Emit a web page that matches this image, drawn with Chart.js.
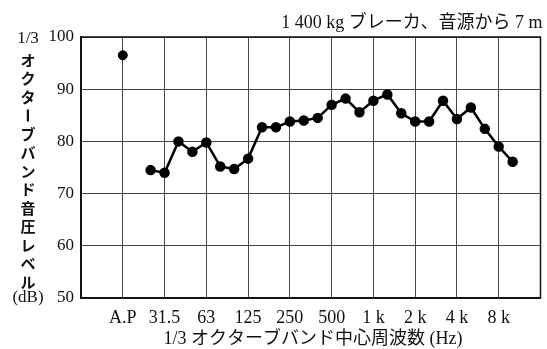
<!DOCTYPE html>
<html><head><meta charset="utf-8">
<script src="https://cdn.jsdelivr.net/npm/chart.js@4/dist/chart.umd.min.js"></script>
<style>html,body{margin:0;padding:0;background:#fff}#wrap{width:547px;height:349px}</style>
</head><body><div id="wrap"><canvas id="c" width="547" height="349"></canvas></div>
<script>
// 1/3 octave band centre frequencies (Hz) of the measured points
const bands = ['25','31.5','40','50','63','80','100','125','160','200','250','315','400','500','630','800','1k','1.25k','1.6k','2k','2.5k','3.15k','4k','5k','6.3k','8k','10k'];
// band sound pressure levels (dB)
const levels = [74.5, 74.0, 80.0, 78.0, 79.8, 75.2, 74.7, 76.7, 82.7, 82.7, 83.8, 84.0, 84.5, 87.0, 88.2, 85.6, 87.8, 89.0, 85.4, 83.8, 83.8, 87.8, 84.3, 86.5, 82.4, 79.0, 76.1];
// overall A.P level (dB)
const apLevel = 96.5;
// x tick labels (one per octave grid line)
const xTickLabels = ['', 'A.P', '31.5', '63', '125', '250', '500', '1 k', '2 k', '4 k', '8 k', ''];
const yTicks = [50, 60, 70, 80, 90, 100];
const titleText = '1 400 kg ブレーカ、音源から 7 m';
const yTitleTop = '1/3';
const yTitleChars = ['オ','ク','タ','ー','ブ','バ','ン','ド','音','圧','レ','ベ','ル'];
const yTitleBottom = '(dB)';
const xTitle = '1/3 オクターブバンド中心周波数 (Hz)';

const FONT = "'Liberation Serif', 'Noto Sans CJK JP', serif";

// positions on a third-octave step scale: A.P at 3, 25 Hz at 5
const bandPos = bands.map((b, i) => 5 + i);
const lineData = levels.map((v, i) => ({x: bandPos[i], y: v}));
const apData = [{x: 3, y: apLevel}];

const textPlugin = {
  id: 'texts',
  afterDraw(chart) {
    const ctx = chart.ctx;
    const a = chart.chartArea;
    ctx.save();
    ctx.strokeStyle = '#111';
    ctx.lineWidth = 1.5;
    ctx.strokeRect(a.left, a.top, a.right - a.left, a.bottom - a.top);
    ctx.fillStyle = '#111';
    // title
    ctx.font = "18px " + FONT;
    ctx.textAlign = 'right';
    ctx.textBaseline = 'middle';
    ctx.fillText(titleText, a.right + 2, 23);
    // y title
    ctx.textAlign = 'center';
    ctx.font = "17px " + FONT;
    ctx.fillText(yTitleTop, 28, 39);
    ctx.font = "bold 15px 'Noto Sans CJK JP'";
    const y0 = 60, step = 18.5;
    yTitleChars.forEach((ch, i) => {
      const y = y0 + i * step;
      if (ch === 'ー') {
        ctx.save();
        ctx.translate(28, y);
        ctx.rotate(Math.PI / 2);
        ctx.fillText(ch, 0, 0);
        ctx.restore();
      } else {
        ctx.fillText(ch, 28, y);
      }
    });
    ctx.font = "17px " + FONT;
    ctx.fillText(yTitleBottom, 28, 298);
    // x title
    ctx.font = "18px " + FONT;
    ctx.fillText(xTitle, 313, 339);
    ctx.restore();
  }
};

new Chart(document.getElementById('c'), {
  type: 'line',
  data: {
    datasets: [
      {data: lineData, borderColor: '#000', backgroundColor: '#000', borderWidth: 2.5, pointRadius: 4, pointBackgroundColor: '#000', pointBorderColor: '#000', tension: 0},
      {data: apData, showLine: false, borderColor: '#000', backgroundColor: '#000', pointRadius: 4.5, pointBackgroundColor: '#000'}
    ]
  },
  options: {
    responsive: false,
    animation: false,
    devicePixelRatio: 1,
    layout: {padding: {top: 37, right: 5, left: 0, bottom: 0}},
    plugins: {legend: {display: false}, tooltip: {enabled: false}, title: {display: false}},
    scales: {
      x: {
        type: 'linear', min: 0, max: 33,
        afterFit(s) { s.height = 51; s.paddingLeft = 0; s.paddingRight = 0; },
        afterBuildTicks(s) { s.ticks = xTickLabels.map((l, i) => ({value: i * 3})); },
        grid: {color: '#444', lineWidth: 1, drawTicks: false},
        border: {color: '#111', width: 1.5},
        ticks: {
          autoSkip: false, maxRotation: 0, padding: 9, color: '#111',
          font: {family: FONT, size: 18},
          callback: (v, i) => xTickLabels[i]
        }
      },
      y: {
        min: 50, max: 100,
        afterFit(s) { s.width = 81; s.paddingTop = 0; s.paddingBottom = 0; },
        afterBuildTicks(s) { s.ticks = yTicks.map(v => ({value: v})); },
        grid: {color: '#444', lineWidth: 1, drawTicks: false},
        border: {color: '#111', width: 1.5},
        ticks: {padding: 7, color: '#111', font: {family: FONT, size: 17}}
      }
    }
  },
  plugins: [textPlugin]
});
</script></body></html>
